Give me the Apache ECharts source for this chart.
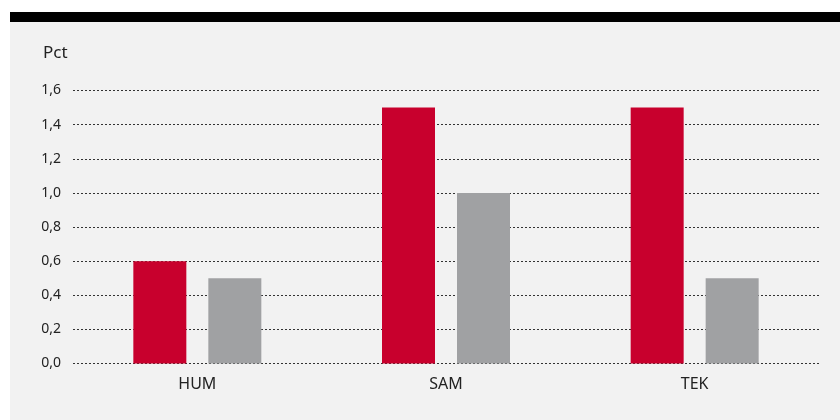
<!DOCTYPE html>
<html>
<head>
<meta charset="utf-8">
<script src="https://cdn.jsdelivr.net/npm/echarts@6/dist/echarts.min.js"></script>
<style>
html,body{margin:0;padding:0;background:#fff;}
#wrap{position:relative;width:840px;height:420px;overflow:hidden;}
#panel{position:absolute;left:10px;top:22px;width:830px;height:398px;background:#f2f2f2;}
#topbar{position:absolute;left:10px;top:12px;width:830px;height:10px;background:#000;}
#chart{position:absolute;left:0;top:0;width:840px;height:420px;}
</style>
</head>
<body>
<div id="wrap">
<div id="panel"></div>
<div id="topbar"></div>
<div id="chart"></div>
</div>
<script>
const categories = ['HUM', 'SAM', 'TEK'];
const seriesRed = [0.6, 1.5, 1.5];
const seriesGray = [0.5, 1.0, 0.5];
const yTicks = { min: 0, max: 1.6, interval: 0.2 };
const unitLabel = 'Pct';

const chart = echarts.init(document.getElementById('chart'), null, { renderer: 'canvas' });
const font = '"Noto Sans", "Open Sans", sans-serif';
chart.setOption({
  backgroundColor: 'transparent',
  animation: false,
  textStyle: { fontFamily: font },
  title: {
    text: unitLabel,
    left: 38,
    top: 40,
    textStyle: { fontFamily: font, fontSize: 17, fontWeight: 'normal', color: '#222' }
  },
  grid: { left: 73, right: 21, top: 90.5, bottom: 56.5, containLabel: false },
  xAxis: {
    type: 'category',
    data: categories,
    axisLine: { show: false },
    axisTick: { show: false },
    axisLabel: { fontFamily: font, fontSize: 16, color: '#222', margin: 13 }
  },
  yAxis: {
    type: 'value',
    min: yTicks.min,
    max: yTicks.max,
    interval: yTicks.interval,
    axisLine: { show: false },
    axisTick: { show: false },
    axisLabel: {
      fontFamily: font, fontSize: 14, color: '#222', margin: 12,
      formatter: v => v.toFixed(1).replace('.', ',')
    },
    splitLine: { show: true, lineStyle: { color: '#333', width: 1, type: [2, 2] } }
  },
  series: [
    {
      type: 'bar', data: seriesRed, barWidth: 53, barGap: '41.5%',
      itemStyle: { color: '#c8002d' }, z: 3
    },
    {
      type: 'bar', data: seriesGray, barWidth: 53,
      itemStyle: { color: '#a0a1a3' }, z: 3
    }
  ]
});
</script>
</body>
</html>
